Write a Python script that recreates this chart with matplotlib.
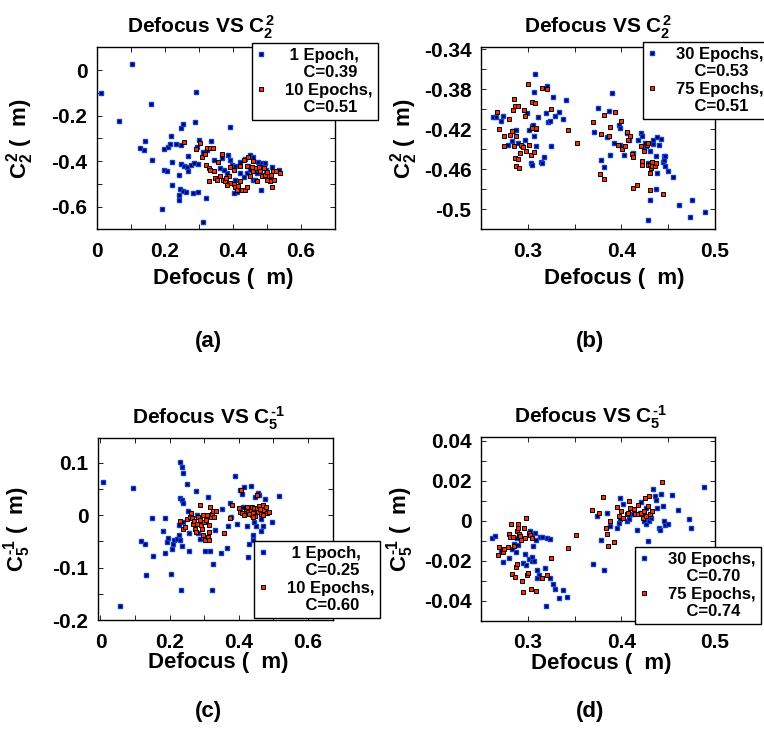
import matplotlib
matplotlib.use('Agg')
import matplotlib.pyplot as plt

plt.rcParams['font.family'] = 'Liberation Sans'
plt.rcParams['font.weight'] = 'bold'
plt.rcParams['mathtext.fontset'] = 'custom'
plt.rcParams['mathtext.rm'] = 'Liberation Sans:bold'
plt.rcParams['mathtext.it'] = 'Liberation Sans:bold'
plt.rcParams['mathtext.bf'] = 'Liberation Sans:bold'
plt.rcParams['axes.unicode_minus'] = False

# ---- panel (a): Defocus vs C22, 1 and 10 epochs ----
a_blue_x = [0.103, 0.012, 0.159, 0.064, 0.291, 0.289, 0.392, 0.253, 0.246, 0.217, 0.140, 0.127,
            0.139, 0.163, 0.198, 0.208, 0.215, 0.232, 0.248, 0.301, 0.335, 0.295, 0.324, 0.220,
            0.267, 0.246, 0.255, 0.264, 0.276, 0.284, 0.296, 0.269, 0.240, 0.198, 0.206, 0.220,
            0.245, 0.253, 0.261, 0.240, 0.241, 0.282, 0.298, 0.320, 0.191, 0.312, 0.385, 0.392,
            0.368, 0.396, 0.406, 0.421, 0.436, 0.450, 0.460, 0.445, 0.440, 0.450, 0.458, 0.470,
            0.473, 0.485, 0.490, 0.495, 0.497, 0.482, 0.433, 0.421, 0.405, 0.411, 0.402, 0.362,
            0.382, 0.372, 0.343, 0.313, 0.534, 0.514, 0.465]
a_blue_y = [0.025, -0.101, -0.151, -0.225, -0.097, -0.229, -0.252, -0.238, -0.254, -0.290, -0.312, -0.342,
            -0.352, -0.396, -0.346, -0.338, -0.326, -0.326, -0.328, -0.306, -0.312, -0.338, -0.352, -0.404,
            -0.378, -0.414, -0.420, -0.426, -0.416, -0.407, -0.414, -0.445, -0.461, -0.439, -0.442, -0.504,
            -0.523, -0.530, -0.535, -0.548, -0.570, -0.541, -0.538, -0.564, -0.612, -0.668, -0.374, -0.396,
            -0.388, -0.417, -0.422, -0.403, -0.393, -0.374, -0.381, -0.420, -0.454, -0.439, -0.483, -0.454,
            -0.406, -0.410, -0.422, -0.407, -0.439, -0.526, -0.471, -0.454, -0.483, -0.538, -0.541, -0.432,
            -0.454, -0.439, -0.396, -0.359, -0.439, -0.425, -0.483]
a_red_x = [0.257, 0.292, 0.304, 0.309, 0.319, 0.323, 0.331, 0.341, 0.321, 0.328, 0.333, 0.343,
           0.328, 0.348, 0.357, 0.367, 0.362, 0.370, 0.377, 0.387, 0.392, 0.382, 0.402, 0.406,
           0.411, 0.416, 0.421, 0.426, 0.436, 0.440, 0.450, 0.445, 0.440, 0.455, 0.460, 0.468,
           0.472, 0.480, 0.485, 0.495, 0.500, 0.505, 0.509, 0.511, 0.517, 0.522, 0.527, 0.537,
           0.514, 0.421, 0.431, 0.460, 0.475, 0.490, 0.402, 0.392, 0.380, 0.352, 0.500]
a_red_y = [-0.316, -0.349, -0.320, -0.381, -0.371, -0.343, -0.342, -0.341, -0.417, -0.432, -0.439, -0.443,
           -0.486, -0.475, -0.403, -0.370, -0.465, -0.483, -0.490, -0.468, -0.497, -0.504, -0.501, -0.512,
           -0.529, -0.509, -0.487, -0.529, -0.526, -0.512, -0.468, -0.381, -0.422, -0.425, -0.446, -0.432,
           -0.490, -0.446, -0.468, -0.461, -0.449, -0.468, -0.490, -0.461, -0.442, -0.483, -0.446, -0.454,
           -0.512, -0.420, -0.396, -0.399, -0.425, -0.432, -0.439, -0.425, -0.475, -0.483, -0.483]

# ---- panel (b): Defocus vs C22, 30 and 75 epochs ----
b_blue_x = [0.263, 0.266, 0.271, 0.274, 0.279, 0.283, 0.284, 0.287, 0.290, 0.294, 0.297, 0.301,
            0.299, 0.304, 0.308, 0.307, 0.311, 0.306, 0.307, 0.309, 0.303, 0.305, 0.314, 0.315,
            0.317, 0.319, 0.322, 0.324, 0.325, 0.327, 0.329, 0.333, 0.338, 0.341, 0.320, 0.371,
            0.375, 0.378, 0.381, 0.385, 0.387, 0.388, 0.390, 0.392, 0.397, 0.398, 0.399, 0.403,
            0.406, 0.408, 0.412, 0.418, 0.421, 0.422, 0.426, 0.428, 0.428, 0.430, 0.431, 0.434,
            0.437, 0.438, 0.437, 0.438, 0.440, 0.442, 0.444, 0.445, 0.446, 0.447, 0.447, 0.450,
            0.455, 0.461, 0.473, 0.475, 0.489, 0.434, 0.425]
b_blue_y = [-0.408, -0.408, -0.412, -0.407, -0.436, -0.432, -0.422, -0.421, -0.434, -0.437, -0.431, -0.421,
            -0.404, -0.417, -0.365, -0.383, -0.408, -0.416, -0.427, -0.437, -0.454, -0.456, -0.453, -0.454,
            -0.448, -0.404, -0.413, -0.412, -0.437, -0.388, -0.407, -0.403, -0.410, -0.391, -0.377, -0.423,
            -0.399, -0.451, -0.458, -0.428, -0.402, -0.446, -0.384, -0.434, -0.416, -0.419, -0.436, -0.446,
            -0.424, -0.431, -0.444, -0.431, -0.424, -0.427, -0.437, -0.454, -0.511, -0.491, -0.442, -0.431,
            -0.447, -0.428, -0.480, -0.464, -0.436, -0.430, -0.453, -0.451, -0.447, -0.457, -0.447, -0.462,
            -0.468, -0.496, -0.508, -0.491, -0.503, -0.435, -0.434]
b_red_x = [0.267, 0.269, 0.275, 0.275, 0.280, 0.281, 0.283, 0.284, 0.285, 0.286, 0.287, 0.289,
           0.285, 0.286, 0.287, 0.290, 0.291, 0.292, 0.293, 0.295, 0.296, 0.297, 0.298, 0.300,
           0.301, 0.303, 0.305, 0.305, 0.307, 0.308, 0.309, 0.309, 0.315, 0.321, 0.325, 0.343,
           0.353, 0.370, 0.377, 0.381, 0.378, 0.381, 0.388, 0.393, 0.387, 0.396, 0.400, 0.401,
           0.404, 0.406, 0.407, 0.409, 0.411, 0.412, 0.412, 0.417, 0.421, 0.422, 0.422, 0.424,
           0.427, 0.428, 0.428, 0.430, 0.431, 0.432, 0.433, 0.436, 0.437, 0.430, 0.444, 0.433]
b_red_y = [-0.403, -0.420, -0.427, -0.437, -0.410, -0.426, -0.422, -0.401, -0.390, -0.397, -0.427, -0.397,
           -0.437, -0.449, -0.457, -0.450, -0.459, -0.444, -0.436, -0.438, -0.401, -0.407, -0.442, -0.375,
           -0.436, -0.446, -0.393, -0.419, -0.443, -0.394, -0.420, -0.419, -0.379, -0.380, -0.400, -0.421,
           -0.434, -0.413, -0.465, -0.470, -0.425, -0.406, -0.418, -0.403, -0.427, -0.436, -0.412, -0.440,
           -0.437, -0.423, -0.431, -0.427, -0.445, -0.448, -0.479, -0.476, -0.437, -0.452, -0.456, -0.442,
           -0.436, -0.434, -0.456, -0.456, -0.464, -0.459, -0.457, -0.457, -0.454, -0.481, -0.485, -0.453]

# ---- panel (c): Defocus vs C5-1, 1 and 10 epochs ----
c_blue_x = [0.007, 0.094, 0.058, 0.117, 0.130, 0.132, 0.149, 0.152, 0.180, 0.186, 0.186, 0.192,
            0.195, 0.207, 0.209, 0.204, 0.212, 0.221, 0.226, 0.228, 0.231, 0.236, 0.240, 0.234,
            0.229, 0.236, 0.240, 0.231, 0.236, 0.238, 0.250, 0.253, 0.255, 0.257, 0.277, 0.279,
            0.281, 0.287, 0.303, 0.310, 0.317, 0.322, 0.325, 0.332, 0.348, 0.351, 0.365, 0.370,
            0.375, 0.378, 0.390, 0.394, 0.404, 0.409, 0.416, 0.423, 0.428, 0.431, 0.435, 0.438,
            0.441, 0.442, 0.444, 0.447, 0.450, 0.457, 0.460, 0.464, 0.466, 0.471, 0.476, 0.495,
            0.517, 0.452, 0.423, 0.412]
c_blue_y = [0.063, 0.051, -0.174, -0.049, -0.056, -0.115, -0.006, -0.078, -0.030, -0.006, -0.073, -0.051,
            -0.043, -0.064, -0.056, -0.112, -0.047, -0.046, -0.019, -0.038, 0.102, 0.091, 0.081, -0.142,
            0.032, 0.029, 0.024, -0.048, -0.059, -0.013, 0.059, 0.008, -0.035, -0.069, 0.046, 0.000,
            -0.034, -0.045, -0.069, 0.035, -0.068, -0.142, -0.094, -0.029, -0.073, 0.011, -0.063, -0.020,
            0.024, -0.004, 0.075, -0.017, 0.048, 0.041, 0.054, -0.020, -0.080, -0.056, 0.055, 0.000,
            -0.047, -0.038, -0.013, 0.034, -0.020, 0.043, 0.038, -0.008, -0.030, -0.020, 0.031, -0.013,
            0.037, 0.006, 0.004, 0.016]
c_red_x = [0.231, 0.238, 0.245, 0.250, 0.258, 0.262, 0.264, 0.267, 0.271, 0.274, 0.276, 0.279,
           0.282, 0.287, 0.288, 0.291, 0.293, 0.296, 0.298, 0.300, 0.303, 0.306, 0.308, 0.310,
           0.313, 0.314, 0.315, 0.317, 0.319, 0.322, 0.325, 0.330, 0.335, 0.358, 0.375, 0.380,
           0.402, 0.404, 0.406, 0.410, 0.416, 0.420, 0.423, 0.428, 0.431, 0.435, 0.438, 0.441,
           0.444, 0.447, 0.452, 0.457, 0.460, 0.462, 0.466, 0.471, 0.474, 0.478, 0.481, 0.488,
           0.471, 0.454, 0.442]
c_red_y = [-0.011, -0.026, -0.022, -0.008, -0.003, 0.004, -0.006, -0.016, -0.011, -0.026, -0.033, -0.017,
           -0.003, -0.010, 0.019, -0.019, -0.027, -0.037, 0.000, -0.014, -0.048, -0.010, 0.001, -0.041,
           -0.032, -0.047, -0.019, 0.016, -0.004, 0.003, 0.008, -0.003, 0.008, -0.034, -0.005, 0.019,
           0.013, 0.006, 0.048, 0.004, 0.000, 0.011, 0.015, 0.006, 0.002, 0.010, 0.016, 0.004,
           0.013, -0.002, 0.014, 0.006, 0.018, 0.011, 0.003, 0.019, 0.010, 0.015, 0.004, 0.006,
           0.000, 0.038, -0.004]

# ---- panel (d): Defocus vs C5-1, 30 and 75 epochs ----
d_blue_x = [0.262, 0.265, 0.271, 0.273, 0.280, 0.283, 0.285, 0.287, 0.288, 0.290, 0.295, 0.297,
            0.298, 0.301, 0.302, 0.303, 0.304, 0.305, 0.307, 0.308, 0.309, 0.310, 0.312, 0.310,
            0.313, 0.315, 0.318, 0.319, 0.321, 0.324, 0.324, 0.327, 0.329, 0.333, 0.338, 0.342,
            0.306, 0.370, 0.374, 0.378, 0.381, 0.385, 0.388, 0.395, 0.397, 0.398, 0.399, 0.402,
            0.406, 0.408, 0.409, 0.412, 0.417, 0.421, 0.424, 0.426, 0.428, 0.429, 0.432, 0.434,
            0.436, 0.437, 0.438, 0.440, 0.441, 0.442, 0.444, 0.445, 0.447, 0.450, 0.454, 0.460,
            0.472, 0.474, 0.488, 0.426, 0.420, 0.431]
d_blue_y = [-0.0083, -0.0075, -0.0150, -0.0205, -0.0183, -0.0142, -0.0113, -0.0153, -0.0083, -0.0122, -0.0208, -0.0167,
            -0.0222, -0.0192, -0.0050, -0.0063, -0.0180, -0.0200, -0.0200, -0.0058, -0.0097, -0.0245, -0.0270, -0.0287,
            -0.0078, -0.0080, -0.0237, -0.0425, -0.0087, -0.0092, -0.0283, -0.0317, -0.0342, -0.0383, -0.0347, -0.0380,
            -0.0125, -0.0213, 0.0025, -0.0095, -0.0245, 0.0042, -0.0025, -0.0033, -0.0012, 0.0012, 0.0117, 0.0087,
            0.0000, 0.0008, 0.0033, 0.0037, -0.0047, 0.0097, 0.0000, -0.0013, -0.0100, 0.0000, 0.0017, 0.0162,
            0.0125, 0.0105, 0.0067, -0.0033, -0.0045, 0.0133, 0.0075, 0.0000, -0.0020, -0.0013, 0.0130, 0.0053,
            0.0012, -0.0033, 0.0170, 0.0067, 0.0042, 0.0030]
d_red_x = [0.268, 0.269, 0.274, 0.275, 0.279, 0.280, 0.281, 0.282, 0.283, 0.284, 0.285, 0.286,
           0.287, 0.288, 0.288, 0.290, 0.290, 0.291, 0.292, 0.293, 0.294, 0.295, 0.296, 0.297,
           0.298, 0.299, 0.300, 0.301, 0.302, 0.303, 0.304, 0.309, 0.315, 0.320, 0.325, 0.343,
           0.352, 0.369, 0.376, 0.380, 0.383, 0.385, 0.386, 0.388, 0.392, 0.395, 0.397, 0.400,
           0.402, 0.406, 0.407, 0.408, 0.409, 0.413, 0.414, 0.418, 0.418, 0.421, 0.423, 0.424,
           0.425, 0.426, 0.429, 0.431, 0.433, 0.443, 0.428]
d_red_y = [-0.0170, -0.0128, -0.0153, -0.0142, -0.0130, -0.0067, -0.0080, -0.0013, -0.0263, -0.0080, -0.0125, -0.0280,
           -0.0230, -0.0217, -0.0050, -0.0017, -0.0033, -0.0063, -0.0075, -0.0095, -0.0300, -0.0353, -0.0033, -0.0083,
           0.0017, -0.0270, -0.0262, -0.0058, -0.0070, -0.0342, -0.0083, -0.0350, -0.0287, -0.0272, -0.0183, -0.0133,
           -0.0070, 0.0055, 0.0042, 0.0120, -0.0033, -0.0063, -0.0125, 0.0000, -0.0103, 0.0070, 0.0025, 0.0050,
           0.0013, 0.0037, 0.0042, 0.0100, 0.0067, 0.0058, 0.0037, 0.0080, 0.0037, 0.0042, 0.0017, 0.0050,
           0.0113, 0.0025, 0.0125, 0.0037, 0.0050, 0.0197, 0.0075]

# tick positions and labels
ab_xticks = [0, 0.2, 0.4, 0.6]
ab_xlabels = ['0', '0.2', '0.4', '0.6']
a_yticks = [0, -0.2, -0.4, -0.6]
a_ylabels = ['0', '-0.2', '-0.4', '-0.6']
bd_xticks = [0.3, 0.4, 0.5]
bd_xlabels = ['0.3', '0.4', '0.5']
b_yticks = [-0.34, -0.38, -0.42, -0.46, -0.5]
b_ylabels = ['-0.34', '-0.38', '-0.42', '-0.46', '-0.5']
c_yticks = [0.1, 0, -0.1, -0.2]
c_ylabels = ['0.1', '0', '-0.1', '-0.2']
d_yticks = [0.04, 0.02, 0, -0.02, -0.04]
d_ylabels = ['0.04', '0.02', '0', '-0.02', '-0.04']

BLUE = '#0a3cf0'
RED = '#ff2a00'
C22 = r'$C_2^2$'
C51 = r'$C_5^{\text{-1}}$'


def draw_panel(rect, bx, by, rx, ry, labels, coef, xlim, ylim,
               xt, xtl, yt, ytl, xminor, yminor, title_x, ylab_x, xlab_pos, leg_anchor):
    ax = fig.add_axes(rect)
    ax.plot(bx, by, 's', ls='none', ms=3.2, mfc='#000018', mec=BLUE, mew=1.0, label=labels[0])
    ax.plot(rx, ry, 's', ls='none', ms=3.2, mfc=RED, mec='black', mew=0.7, label=labels[1])
    ax.set_xlim(xlim)
    ax.set_ylim(ylim)
    ax.set_xticks(xt)
    ax.set_xticklabels(xtl)
    ax.set_yticks(yt)
    ax.set_yticklabels(ytl)
    ax.set_xticks(xminor, minor=True)
    ax.set_yticks(yminor, minor=True)
    ax.tick_params(which='both', direction='in', top=True, right=True, length=3.5, width=0.6,
                   labelsize=15)
    ax.tick_params(axis='x', which='major', pad=9)
    ax.tick_params(axis='y', which='major', pad=7)
    for s in ax.spines.values():
        s.set_linewidth(1.0)
    ax.set_title('Defocus VS ' + coef, fontsize=15, fontweight='bold', x=title_x, pad=10)
    ax.set_ylabel(coef + ' (  m)', fontsize=16, fontweight='bold')
    ax.yaxis.set_label_coords(ylab_x, 0.5)
    ax.set_xlabel('Defocus (  m)', fontsize=16, fontweight='bold')
    ax.xaxis.set_label_coords(xlab_pos[0], xlab_pos[1])
    leg = ax.legend(loc='upper left', bbox_to_anchor=leg_anchor, bbox_transform=fig.transFigure,
                    fontsize=12, fancybox=False, framealpha=1, edgecolor='black',
                    handlelength=0.5, handletextpad=1.2, borderpad=0.3, labelspacing=0.15,
                    borderaxespad=0)
    leg.get_frame().set_linewidth(1.0)
    # put the marker beside the first line of each entry
    for row in leg._legend_handle_box.get_children():
        for entry in row.get_children():
            entry.align = 'top'
    return ax


fig = plt.figure(figsize=(7.64, 7.42), dpi=100)

draw_panel([0.127, 0.691, 0.3115, 0.2453], a_blue_x, a_blue_y, a_red_x, a_red_y,
           [' 1 Epoch,\n    C=0.39', '10 Epochs,\n    C=0.51'], C22, (0, 0.7), (-0.7, 0.1),
           ab_xticks, ab_xlabels, a_yticks, a_ylabels,
           [0.1, 0.3, 0.5, 0.7], [-0.1, -0.3, -0.5, -0.7, 0.1],
           0.437, -0.256, (0.53, -0.21), (0.330, 0.942))

draw_panel([0.6296, 0.691, 0.3063, 0.2453], b_blue_x, b_blue_y, b_red_x, b_red_y,
           ['30 Epochs,\n    C=0.53', '75 Epochs,\n    C=0.51'], C22, (0.25, 0.5), (-0.52, -0.338),
           bd_xticks, bd_xlabels, b_yticks, b_ylabels,
           [0.25, 0.35, 0.45], [-0.36, -0.40, -0.44, -0.48, -0.52],
           0.5, -0.26, (0.568, -0.21), (0.8416, 0.9434))

draw_panel([0.1283, 0.1644, 0.3076, 0.2453], c_blue_x, c_blue_y, c_red_x, c_red_y,
           [' 1 Epoch,\n    C=0.25', '10 Epochs,\n    C=0.60'], C51, (-0.007, 0.673), (-0.2, 0.147),
           ab_xticks, ab_xlabels, c_yticks, c_ylabels,
           [0.1, 0.3, 0.5], [0.05, -0.05, -0.15],
           0.47, -0.277, (0.51, -0.176), (0.3325, 0.2709))

draw_panel([0.6296, 0.1631, 0.3063, 0.248], d_blue_x, d_blue_y, d_red_x, d_red_y,
           ['30 Epochs,\n    C=0.70', '75 Epochs,\n    C=0.74'], C51, (0.25, 0.5), (-0.05, 0.042),
           bd_xticks, bd_xlabels, d_yticks, d_ylabels,
           [0.25, 0.35, 0.45], [0.03, 0.01, -0.01, -0.03, -0.05],
           0.466, -0.278, (0.513, -0.174), (0.831, 0.2628))

for lab, px, py in [('(a)', 208, 341), ('(b)', 590, 341), ('(c)', 208, 712), ('(d)', 590, 712)]:
    fig.text(px / 764, 1 - py / 742, lab, ha='center', va='center', fontsize=16, fontweight='bold')

fig.savefig('out.png', dpi=100)
